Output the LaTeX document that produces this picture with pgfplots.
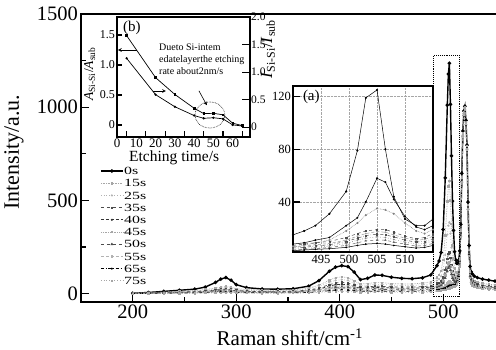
\documentclass[border=0pt]{standalone}
\usepackage{fontspec}
\setmainfont{Liberation Serif}
\newfontfamily\legfont[FakeStretch=1.45]{Liberation Serif}
\usepackage{pgfplots}
\usepackage{pgfplotstable}
\pgfplotsset{compat=1.18}

\pgfplotstableread{
x c0 c15 c25 c35 c40 c45 c50 c55 c65 c75
200 2 2 2 1 1 1 1 1 0 0
215 6 5 5 4 3 3 2 2 1 1
230 12 9 8 6 5 4 4 3 2 1
245 18 13 11 8 7 6 5 4 3 2
260 24 16 14 11 9 8 6 5 4 2
270 35 22 18 14 12 10 8 7 5 3
280 60 29 24 19 16 13 11 9 6 4
285 78 34 29 23 19 16 13 11 8 5
290 86 38 32 25 21 18 15 12 8 5
295 72 34 29 23 19 16 13 11 8 5
300 48 27 23 18 15 13 11 8 6 4
310 32 22 18 14 12 10 8 7 5 3
325 25 18 15 12 10 8 7 6 4 2
340 24 18 15 12 10 8 7 6 4 2
355 26 20 17 13 11 9 8 6 4 3
370 40 29 24 19 16 13 11 9 6 4
380 70 45 38 30 25 21 18 14 10 6
390 120 72 60 48 40 34 28 22 16 10
396 142 86 71 57 48 40 33 27 19 11
402 150 90 75 60 50 42 35 28 20 12
408 145 86 71 57 48 40 33 27 19 11
414 115 68 56 45 38 32 26 21 15 9
420 75 52 44 35 29 24 20 16 12 7
427 82 54 45 36 30 25 21 17 12 7
434 100 59 50 40 33 28 23 18 13 8
441 98 59 49 39 33 27 23 18 13 8
450 88 54 45 36 30 25 21 17 12 7
460 82 52 44 35 29 24 20 16 12 7
470 80 52 44 35 29 24 20 16 12 7
480 85 56 47 37 31 26 22 17 12 7
488 100 63 53 42 35 29 25 20 14 8
494 150 88 70 55 46 40 34 27 20 14
496 175 100 78 59 49 44 37 29 22 15
498 221 123 93 68 56 50 43 31 24 17
500 344 181 128 87 69 65 56 36 27 19
502 621 312 207 128 98 97 83 44 31 21
504 1011 496 317 186 139 141 120 55 37 24
505 1178 575 365 212 157 161 137 61 41 25
506 1236 604 383 222 165 170 145 65 44 28
507 1015 501 322 192 145 147 126 61 44 30
508 739 373 247 154 119 120 104 58 44 33
509 496 260 181 121 98 96 84 55 45 36
510 339 189 139 101 85 81 73 54 47 40
511 225 135 107 84 73 69 62 51 45 39
512 182 116 96 80 71 67 62 54 48 43
513 163 110 95 82 74 70 65 59 54 49
514 163 117 104 92 85 81 76 71 66 62
515 179 137 125 115 108 104 100 95 91 86
516 229 191 181 171 164 161 157 153 150 146
517 372 342 332 324 316 315 312 309 307 304
518 645 625 618 611 602 604 602 601 602 601
519 872 861 855 850 840 844 845 844 848 848
520 980 973 969 965 954 959 960 961 966 967
521 1005 1000 996 993 982 988 989 990 996 996
522 929 923 919 915 905 910 911 912 917 917
523 797 789 784 780 771 775 775 775 779 778
524 491 474 468 462 455 455 454 453 453 452
525 258 234 228 221 216 214 211 209 207 204
526 146 119 112 106 100 97 94 91 88 85
527 117 90 83 76 71 68 65 62 59 55
528 106 79 73 66 61 58 55 52 49 45
530 94 68 62 55 51 48 45 42 38 35
533 86 62 55 49 45 42 39 36 33 30
538 78 55 49 43 39 36 33 31 28 25
544 72 50 45 40 36 33 31 28 25 22
550 67 47 42 36 33 30 28 25 23 20
}\spectra

\pgfplotstableread{
x A B C D E F G H I
490 15 8 6 7 6 5 4 3.5 3
492 18 9 7 8 6.5 5.5 4.5 4 3.5
494 22 11 9 9 7.5 6.5 5.5 4.5 4
496.5 31 13 11 10 8.5 7.5 6.5 5.5 4.5
499.5 48 22 18 13 11 10 8.5 7 5.5
501.5 79 28 24 16 14 12.5 11 9 7
503 119 40 30 18 16 14.5 12.5 10.5 8
505 125 58 35 19 17.5 15.5 13.5 11 8.5
506.5 80 55 34 19 17 15 13 11 8
508 44 42 31 17 15 13.5 11.5 9.5 7
510 27 29 24 14 12.5 11 9.5 8 6
512 22 21 18 12 11 9.5 8 6.5 5
513.5 22 19 16 13 11.5 10 8.5 7 5.5
515 27 22 19 16 14 12 10.5 8.5 7
}\insetA

\pgfplotstableread{
t A I
5 1.49 1.25
20 0.79 0.59
30 0.51 0.37
40 0.28 0.21
45 0.19 0.16
50 0.195 0.17
55 0.17 0.15
60 0.03 0.04
65 -0.01 0.02
}\insetB

\begin{document}
\begin{tikzpicture}
\useasboundingbox (0pt,-349pt) rectangle (496pt,0pt);
% ---------------- main axis ----------------
\begin{axis}[
  at={(81pt,-302pt)}, anchor=south west, scale only axis,
  width=416pt, height=288pt,
  xmin=150, xmax=552, ymin=-45, ymax=1500,
  axis line style={line width=1.6pt},
  tick align=inside, xtick pos=left, ytick pos=left,
  xtick={200,300,400,500}, minor xtick={250,350,450},
  ytick={0,500,1000,1500}, minor ytick={250,750,1250},
  major tick length=8pt, minor tick length=5pt,
  tick style={line width=1.3pt, black},
  /pgf/number format/1000 sep={},
  /pgf/number format/assume math mode=true,
  ticklabel style={font=\fontsize{20.5}{20.5}\selectfont},
  xticklabel style={inner sep=1pt, yshift=-2pt},
  yticklabel style={inner sep=1pt, xshift=-2pt},
  xlabel={Raman shift/cm\textsuperscript{-1}},
  ylabel={Intensity/a.u.},
  every axis x label/.style={at={(axis description cs:0.502,-0.122)}, anchor=center, font=\fontsize{21}{21}\selectfont},
  every axis y label/.style={at={(axis description cs:-0.161,0.52)}, rotate=90, anchor=center, font=\fontsize{22}{22}\selectfont},
  legend cell align=left,
  legend image code/.code={\draw[mark repeat=2,mark phase=2,#1] plot coordinates {(0pt,0pt) (11pt,0pt) (22pt,0pt)};},
  legend style={at={(rel axis cs:0.0457,0.472)}, anchor=north west, draw=none, fill=none,
    inner sep=0pt, row sep=2.7pt,
    nodes={inner sep=0.5pt, text height=8pt, text depth=0.5pt, font=\legfont\fontsize{11}{11}\selectfont}},
]
\addplot[black, line width=1.4pt, mark=*, mark size=1pt, mark options={solid}] table[x=x,y=c0]{\spectra};
\addlegendentry{0s}
\addplot[gray!70, densely dotted, line width=0.7pt, mark=square*, mark size=0.7pt, mark options={solid}] table[x=x,y=c15]{\spectra};
\addlegendentry{15s}
\addplot[gray!60, dotted, line width=0.7pt, mark=*, mark size=0.7pt, mark options={solid}] table[x=x,y=c25]{\spectra};
\addlegendentry{25s}
\addplot[black!70, dashed, line width=0.7pt, mark=square*, mark size=0.7pt, mark options={solid}] table[x=x,y=c35]{\spectra};
\addlegendentry{35s}
\addplot[black!80, densely dashed, line width=0.7pt, mark=*, mark size=0.7pt, mark options={solid}] table[x=x,y=c40]{\spectra};
\addlegendentry{40s}
\addplot[gray!70, densely dotted, line width=0.8pt, mark=square*, mark size=0.8pt, mark options={solid}] table[x=x,y=c45]{\spectra};
\addlegendentry{45s}
\addplot[black!70, dashed, line width=0.7pt, mark=triangle*, mark size=1pt, mark options={solid}] table[x=x,y=c50]{\spectra};
\addlegendentry{50s}
\addplot[gray!60, densely dashed, line width=0.7pt, mark=square*, mark size=0.7pt, mark options={solid}] table[x=x,y=c55]{\spectra};
\addlegendentry{55s}
\addplot[black, dashdotted, line width=0.7pt, mark=*, mark size=0.7pt, mark options={solid}] table[x=x,y=c65]{\spectra};
\addlegendentry{65s}
\addplot[gray!70, dotted, line width=0.7pt, mark=square*, mark size=0.7pt, mark options={solid}] table[x=x,y=c75]{\spectra};
\addlegendentry{75s}
\draw[densely dotted, line width=0.9pt] (axis cs:491,-15) rectangle (axis cs:515.5,1278);
\end{axis}
% ---------------- inset (a) ----------------
\begin{axis}[
  at={(293pt,-252pt)}, anchor=south west, scale only axis,
  width=140pt, height=166pt,
  xmin=490, xmax=515, ymin=2, ymax=128,
  axis background/.style={fill=white},
  axis line style={line width=1.4pt},
  xtick={495,500,505,510}, ytick={40,80,120},
  grid=major, major grid style={gray!70, densely dotted, line width=0.5pt},
  tick align=inside, xtick pos=left, ytick pos=left,
  major x tick style={draw=none},
  major tick length=7pt, tick style={line width=1.2pt, black},
  /pgf/number format/assume math mode=true,
  ticklabel style={font=\fontsize{12.5}{12.5}\selectfont},
  xticklabel style={inner sep=1pt, yshift=-2pt},
  yticklabel style={inner sep=1pt, xshift=-1pt},
]
\addplot[black, line width=0.5pt, mark=*, mark size=0.8pt] table[x=x,y=A]{\insetA};
\addplot[black, line width=0.5pt, mark=*, mark size=0.7pt] table[x=x,y=B]{\insetA};
\addplot[gray, densely dotted, line width=0.6pt, mark=*, mark size=0.7pt, mark options={solid}] table[x=x,y=C]{\insetA};
\addplot[black!70, dashed, line width=0.5pt, mark=square*, mark size=0.6pt, mark options={solid}] table[x=x,y=D]{\insetA};
\addplot[gray!80, densely dashed, line width=0.5pt, mark=*, mark size=0.6pt, mark options={solid}] table[x=x,y=E]{\insetA};
\addplot[black!70, dashdotted, line width=0.5pt, mark=square*, mark size=0.6pt, mark options={solid}] table[x=x,y=F]{\insetA};
\addplot[gray, dotted, line width=0.6pt, mark=*, mark size=0.6pt, mark options={solid}] table[x=x,y=G]{\insetA};
\addplot[black!60, dashed, line width=0.5pt, mark=triangle*, mark size=0.8pt, mark options={solid}] table[x=x,y=H]{\insetA};
\addplot[black, line width=0.5pt, mark=*, mark size=0.6pt] table[x=x,y=I]{\insetA};
\node[anchor=west, font=\fontsize{15}{15}\selectfont, inner sep=0pt] at (axis description cs:0.07,0.934) {(a)};
\end{axis}
% ---------------- inset (b), left axis ----------------
\begin{axis}[
  at={(117pt,-137pt)}, anchor=south west, scale only axis,
  width=133pt, height=120pt,
  xmin=0, xmax=69, ymin=-0.2, ymax=1.8, clip=false,
  axis background/.style={fill=white},
  axis line style={line width=1.4pt},
  xtick={0,10,...,60}, minor xtick={5,15,...,65},
  ytick={0,0.5,1,1.5}, yticklabels={0,0.5,1.0,1.5},
  tick align=inside, xtick pos=left, ytick pos=left,
  major x tick style={draw=none},
  major tick length=5pt, minor tick length=6pt,
  tick style={line width=1.1pt, black},
  /pgf/number format/assume math mode=true,
  xticklabel style={font=\fontsize{13}{13}\selectfont, inner sep=1pt, yshift=-1pt},
  yticklabel style={font=\fontsize{12}{12}\selectfont, inner sep=1pt, xshift=-1pt},
  xlabel={Etching time/s},
  ylabel={\textit{A}\textsubscript{Si-Si}/\textit{A}\textsubscript{sub}},
  every axis x label/.style={at={(axis description cs:0.43,-0.175)}, anchor=center, font=\fontsize{15.5}{15.5}\selectfont},
  every axis y label/.style={at={(axis description cs:-0.205,0.525)}, rotate=90, anchor=center, font=\fontsize{13.5}{13.5}\selectfont},
]
\addplot[black, line width=0.7pt, mark=square*, mark size=0.8pt] table[x=t,y=A]{\insetB};
\node[anchor=west, font=\fontsize{15}{15}\selectfont, inner sep=0pt] at (axis description cs:0.045,0.908) {(b)};
\draw[-stealth, line width=0.7pt] (axis cs:10.4,1.25) -- (axis cs:0.5,1.25);
\draw[-stealth, line width=0.7pt] (axis cs:18.7,0.567) -- (axis cs:25.4,0.567);
\node[anchor=north west, align=left, inner sep=0pt, font=\fontsize{10}{12}\selectfont] at (axis cs:21.8,1.36)
  {Dueto Si-intem\\edatelayerthe etching\\rate about2nm/s};
\draw[-stealth, line width=0.6pt] (axis cs:42.5,0.57) -- (axis cs:46.6,0.33);
\draw[densely dotted, line width=0.6pt] (axis cs:48.2,0.167) ellipse [x radius=15pt, y radius=13pt];
\end{axis}
% ---------------- inset (b), right axis ----------------
\begin{axis}[
  at={(117pt,-137pt)}, anchor=south west, scale only axis,
  width=133pt, height=120pt,
  xmin=0, xmax=69, ymin=-0.18, ymax=2.0,
  hide x axis,
  axis line style={line width=1.4pt},
  ytick={0,0.5,1,1.5,2}, yticklabels={0,0.5,1.0,1.5,2.0},
  tick align=inside, ytick pos=right,
  major tick length=8pt, tick style={line width=1.1pt, black},
  /pgf/number format/assume math mode=true,
  yticklabel style={font=\fontsize{11.5}{11.5}\selectfont, inner sep=1pt, xshift=0pt},
  ylabel={\textit{I}\textsubscript{Si-Si}/\textit{I}\textsubscript{sub}},
  every axis y label/.style={at={(axis description cs:1.135,0.733)}, rotate=90, anchor=center, font=\fontsize{17}{17}\selectfont},
]
\addplot[black, line width=0.7pt, mark=*, mark size=0.8pt] table[x=t,y=I]{\insetB};
\end{axis}
\end{tikzpicture}
\end{document}
